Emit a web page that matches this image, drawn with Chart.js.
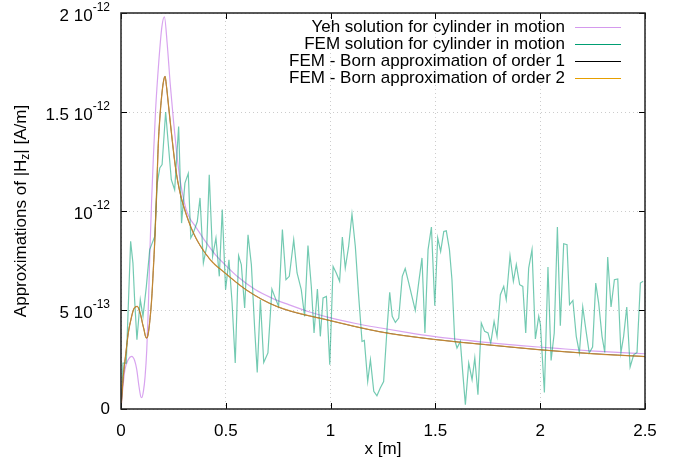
<!DOCTYPE html>
<html>
<head>
<meta charset="utf-8">
<script src="https://cdn.jsdelivr.net/npm/chart.js@4/dist/chart.umd.min.js"></script>
<style>
html,body{margin:0;padding:0;background:#fff;}
canvas{display:block;}
</style>
</head>
<body>
<canvas id="c" width="679" height="462"></canvas>
<script>
// values in units of 1e-12 A/m
const seriesNames = [
  "Yeh solution for cylinder in motion",
  "FEM solution for cylinder in motion",
  "FEM - Born approximation of order 1",
  "FEM - Born approximation of order 2"
];
const xTickValues = [0, 0.5, 1, 1.5, 2, 2.5];
const xTickLabels = ["0", "0.5", "1", "1.5", "2", "2.5"];
const yTickValues = [0, 0.5, 1, 1.5, 2];
const yTickMantissa = ["0", "5 10", "10", "1.5 10", "2 10"];
const yTickExponent = ["", "-13", "-12", "-12", "-12"];

const xYeh = [0,0.01,0.019,0.035,0.051,0.065,0.075,0.085,0.094,0.099,0.107,0.115,0.123,0.13,0.138,0.146,0.154,0.165,0.18,0.195,0.207,0.22,0.235,0.25,0.265,0.28,0.295,0.31,0.33,0.35,0.40,0.45,0.495,0.56,0.64,0.72,0.80,0.90,0.99,1.12,1.24,1.37,1.49,1.62,1.74,1.87,1.99,2.12,2.24,2.37,2.5];
const yYeh = [0,0.12,0.20,0.25,0.266,0.245,0.20,0.12,0.064,0.057,0.09,0.165,0.30,0.50,0.80,1.05,1.26,1.51,1.75,1.93,1.98,1.85,1.64,1.46,1.30,1.17,1.08,1.01,0.96,0.93,0.85,0.78,0.73,0.665,0.603,0.56,0.527,0.49,0.463,0.432,0.409,0.386,0.367,0.35,0.336,0.324,0.313,0.303,0.294,0.286,0.279];

const xBorn = [0,0.011,0.023,0.035,0.047,0.059,0.068,0.078,0.087,0.095,0.103,0.11,0.116,0.122,0.128,0.135,0.146,0.154,0.162,0.17,0.178,0.186,0.194,0.202,0.21,0.217,0.225,0.24,0.26,0.28,0.30,0.345,0.425,0.493,0.6,0.743,0.992,1.236,1.49,1.74,1.99,2.24,2.5];
const yBorn1 = [0,0.165,0.28,0.385,0.45,0.50,0.515,0.518,0.50,0.47,0.43,0.40,0.37,0.358,0.37,0.42,0.55,0.70,0.87,1.10,1.34,1.48,1.58,1.65,1.68,1.63,1.55,1.40,1.22,1.10,1.02,0.89,0.755,0.69,0.60,0.518,0.448,0.39,0.352,0.325,0.30,0.28,0.265];
const yBorn2 = [0,0.165,0.28,0.385,0.45,0.50,0.515,0.518,0.50,0.47,0.43,0.40,0.37,0.358,0.37,0.42,0.55,0.70,0.87,1.10,1.34,1.48,1.58,1.65,1.68,1.63,1.55,1.40,1.22,1.10,1.02,0.89,0.755,0.69,0.60,0.518,0.448,0.39,0.352,0.325,0.30,0.28,0.265];

const xFem = [0,0.0095,0.025,0.046,0.057,0.065,0.076,0.092,0.105,0.121,0.137,0.161,0.173,0.185,0.196,0.213,0.224,0.240,0.256,0.275,0.289,0.305,0.321,0.333,0.345,0.364,0.377,0.393,0.409,0.421,0.437,0.453,0.469,0.483,0.499,0.515,0.53,0.545,0.561,0.574,0.590,0.606,0.622,0.638,0.650,0.665,0.681,0.701,0.720,0.733,0.752,0.770,0.787,0.803,0.824,0.840,0.860,0.876,0.892,0.908,0.921,0.937,0.951,0.964,0.980,0.996,1.012,1.027,1.043,1.056,1.070,1.086,1.102,1.118,1.134,1.150,1.161,1.177,1.190,1.206,1.221,1.237,1.253,1.269,1.282,1.294,1.309,1.325,1.342,1.356,1.373,1.388,1.404,1.420,1.436,1.450,1.465,1.481,1.497,1.511,1.525,1.540,1.552,1.567,1.579,1.592,1.603,1.619,1.630,1.643,1.659,1.675,1.688,1.703,1.719,1.735,1.751,1.764,1.780,1.794,1.810,1.826,1.838,1.856,1.872,1.886,1.902,1.917,1.931,1.945,1.961,1.977,1.993,2.001,2.020,2.037,2.052,2.067,2.082,2.096,2.112,2.128,2.140,2.156,2.172,2.187,2.203,2.218,2.234,2.250,2.265,2.279,2.295,2.308,2.322,2.338,2.354,2.370,2.385,2.398,2.413,2.429,2.446,2.462,2.478,2.491];
const yFem = [0,0.232,0.232,0.847,0.737,0.552,0.35,0.552,0.468,0.619,0.805,0.872,1.141,1.217,1.234,1.5,1.36,1.158,1.107,1.427,0.939,1.141,1.19,0.864,0.889,0.947,1.066,0.737,0.821,1.183,0.771,0.864,0.67,1.007,0.603,0.754,0.535,0.232,0.774,0.729,0.51,0.88,0.729,0.40,0.185,0.552,0.235,0.283,0.606,0.569,0.518,0.906,0.653,0.67,0.855,0.687,0.603,0.468,0.826,0.619,0.384,0.606,0.367,0.561,0.569,0.224,0.72,0.687,0.645,0.869,0.712,0.821,0.985,0.821,0.569,0.341,0.346,0.139,0.249,0.089,0.067,0.106,0.139,0.40,0.589,0.468,0.437,0.459,0.67,0.709,0.636,0.569,0.498,0.636,0.763,0.384,0.805,0.919,0.522,0.864,0.796,0.897,0.90,0.805,0.653,0.35,0.308,0.341,0.19,0.022,0.232,0.148,0.258,0.072,0.434,0.392,0.384,0.333,0.442,0.367,0.577,0.619,0.552,0.774,0.645,0.729,0.628,0.619,0.384,0.712,0.805,0.354,0.468,0.426,0.084,0.717,0.245,0.384,0.919,0.421,0.835,0.83,0.527,0.548,0.367,0.283,0.515,0.40,0.283,0.313,0.636,0.535,0.367,0.286,0.768,0.515,0.653,0.657,0.283,0.367,0.515,0.212,0.274,0.286,0.636,0.645];

const pairs = (xs, ys) => xs.map((x, i) => ({x: x, y: ys[i]}));

const lineColors = ["rgba(148,0,211,0.36)", "rgba(0,158,115,0.55)", "rgba(0,0,0,0.7)", "rgba(225,150,40,0.75)"];
const legendColors = ["rgba(148,0,211,0.4)", "#009e73", "#000000", "#e69f00"];

const FONT = '"Liberation Sans", Arial, sans-serif';
const FS = 17;
const FSUP = 12;

const deco = {
  id: 'deco',
  afterDraw(chart) {
    const ctx = chart.ctx, ca = chart.chartArea, xs = chart.scales.x, ys = chart.scales.y;
    ctx.save();
    // inward tick marks
    ctx.strokeStyle = '#000'; ctx.lineWidth = 1;
    ctx.beginPath();
    xTickValues.forEach(v => {
      const p = Math.round(xs.getPixelForValue(v)) + 0.5;
      ctx.moveTo(p, ca.bottom); ctx.lineTo(p, ca.bottom - 6);
      ctx.moveTo(p, ca.top); ctx.lineTo(p, ca.top + 6);
    });
    yTickValues.forEach(v => {
      const p = Math.round(ys.getPixelForValue(v)) + 0.5;
      ctx.moveTo(ca.left, p); ctx.lineTo(ca.left + 6, p);
      ctx.moveTo(ca.right, p); ctx.lineTo(ca.right - 6, p);
    });
    ctx.stroke();
    // frame
    ctx.lineWidth = 1.5; ctx.strokeStyle = '#222';
    ctx.strokeRect(ca.left, ca.top, ca.right - ca.left, ca.bottom - ca.top);
    // x tick labels
    ctx.fillStyle = '#000';
    ctx.font = FS + 'px ' + FONT;
    ctx.textAlign = 'center'; ctx.textBaseline = 'middle';
    xTickValues.forEach((v, i) => {
      ctx.fillText(xTickLabels[i], xs.getPixelForValue(v), ca.bottom + 22);
    });
    // x title
    ctx.fillText('x [m]', (ca.left + ca.right) / 2, ca.bottom + 40);
    // y tick labels with superscript exponents
    const right = ca.left - 11;
    yTickValues.forEach((v, i) => {
      const p = ys.getPixelForValue(v);
      const exp = yTickExponent[i];
      ctx.textAlign = 'right';
      if (exp) {
        ctx.font = FSUP + 'px ' + FONT;
        const ew = ctx.measureText(exp).width;
        ctx.fillText(exp, right, p - 5);
        ctx.font = FS + 'px ' + FONT;
        ctx.fillText(yTickMantissa[i], right - ew, p + 3);
      } else {
        ctx.font = FS + 'px ' + FONT;
        ctx.fillText(yTickMantissa[i], right, p);
      }
    });
    // y title with subscript
    ctx.save();
    ctx.translate(21, (ca.top + ca.bottom) / 2);
    ctx.rotate(-Math.PI / 2);
    const partA = 'Approximations of |H', partSub = 'z', partB = '| [A/m]';
    ctx.font = FS + 'px ' + FONT;
    const wA = ctx.measureText(partA).width, wB = ctx.measureText(partB).width;
    ctx.font = FSUP + 'px ' + FONT;
    const wS = ctx.measureText(partSub).width;
    const total = wA + wS + wB;
    let cx = -total / 2;
    ctx.textAlign = 'left';
    ctx.font = FS + 'px ' + FONT;
    ctx.fillText(partA, cx, 0); cx += wA;
    ctx.font = FSUP + 'px ' + FONT;
    ctx.fillText(partSub, cx, 5); cx += wS;
    ctx.font = FS + 'px ' + FONT;
    ctx.fillText(partB, cx, 0);
    ctx.restore();
    // legend
    ctx.font = FS + 'px ' + FONT;
    ctx.textAlign = 'right'; ctx.textBaseline = 'middle';
    seriesNames.forEach((name, i) => {
      const yy = ca.top + 14 + i * 17;
      ctx.fillStyle = '#000';
      ctx.fillText(name, 565, yy);
      ctx.strokeStyle = legendColors[i]; ctx.lineWidth = 1.2;
      ctx.beginPath();
      ctx.moveTo(575, Math.round(yy) + 0.5); ctx.lineTo(621, Math.round(yy) + 0.5);
      ctx.stroke();
    });
    ctx.restore();
  }
};

new Chart(document.getElementById('c'), {
  type: 'scatter',
  data: {
    datasets: [
      {label: seriesNames[0], data: pairs(xYeh, yYeh), showLine: true, borderColor: lineColors[0], borderWidth: 1.2, pointRadius: 0, cubicInterpolationMode: 'monotone', order: 4},
      {label: seriesNames[1], data: pairs(xFem, yFem), showLine: true, borderColor: lineColors[1], borderWidth: 1.2, pointRadius: 0, tension: 0, order: 3},
      {label: seriesNames[2], data: pairs(xBorn, yBorn1), showLine: true, borderColor: lineColors[2], borderWidth: 1, pointRadius: 0, cubicInterpolationMode: 'monotone', order: 2},
      {label: seriesNames[3], data: pairs(xBorn, yBorn2), showLine: true, borderColor: lineColors[3], borderWidth: 1.3, pointRadius: 0, cubicInterpolationMode: 'monotone', order: 1}
    ]
  },
  options: {
    responsive: false,
    animation: false,
    devicePixelRatio: 1,
    layout: {padding: {left: 0, top: 13, right: 34, bottom: 0}},
    plugins: {legend: {display: false}, tooltip: {enabled: false}},
    scales: {
      x: {
        type: 'linear', min: 0, max: 2.5,
        ticks: {stepSize: 0.5, display: false},
        grid: {color: '#cccccc', lineWidth: 1, drawTicks: false},
        border: {display: false, dash: [1, 3]},
        afterFit: s => { s.height = 53; }
      },
      y: {
        type: 'linear', min: 0, max: 2,
        ticks: {stepSize: 0.5, display: false},
        grid: {color: '#cccccc', lineWidth: 1, drawTicks: false},
        border: {display: false, dash: [1, 3]},
        afterFit: s => { s.width = 121; }
      }
    }
  },
  plugins: [deco]
});
</script>
</body>
</html>
